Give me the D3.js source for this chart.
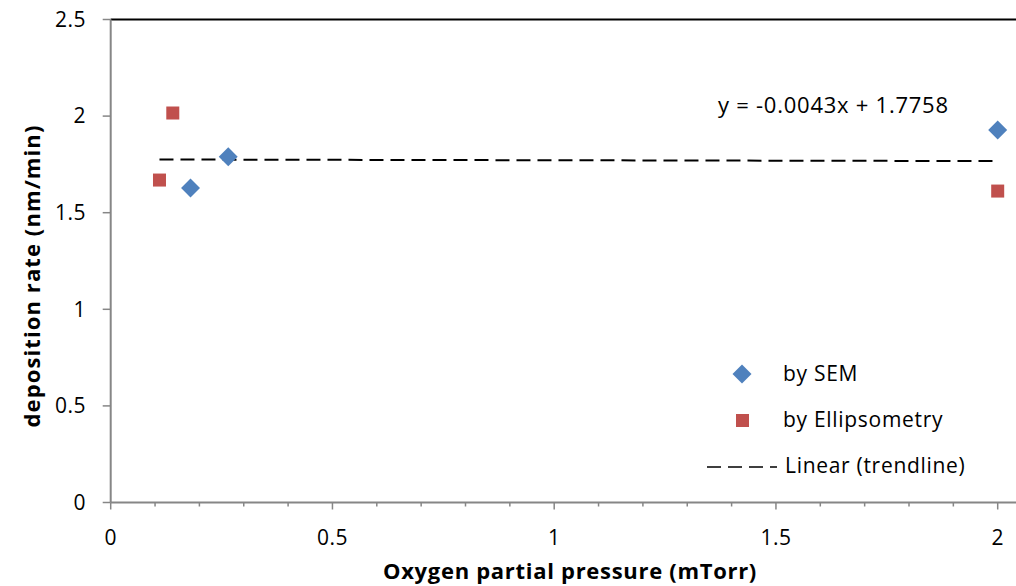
<!DOCTYPE html>
<html>
<head>
<meta charset="utf-8">
<script src="https://cdn.jsdelivr.net/npm/d3@7"></script>
<style>
  body { margin: 0; background: #fff; }
  svg text { font-family: "Open Sans", "Noto Sans", sans-serif; fill: #000; }
</style>
</head>
<body>
<svg width="1016" height="586"></svg>
<script>
// data
var semX = [0.18, 0.265, 2.0];
var semY = [1.628, 1.79, 1.928];
var ellX = [0.11, 0.14, 2.0];
var ellY = [1.669, 2.016, 1.612];
var trendSlope = -0.0043, trendIntercept = 1.7758;
var trendRange = [0.11, 2.0];
var xTicks = [0, 0.5, 1, 1.5, 2];
var yTicks = [0, 0.5, 1, 1.5, 2, 2.5];

var svg = d3.select('svg');
var x = d3.scaleLinear().domain([0, 2]).range([110.7, 997.7]);
var y = d3.scaleLinear().domain([0, 2.5]).range([502.5, 19.5]);
var right = 1016;
var grey = '#868686';

// top border
svg.append('line')
    .attr('x1', x(0)).attr('x2', right)
    .attr('y1', y(2.5)).attr('y2', y(2.5))
    .attr('stroke', '#000').attr('stroke-width', 2);

// y axis
var yAx = svg.append('g');
yAx.append('line')
    .attr('x1', x(0)).attr('x2', x(0))
    .attr('y1', y(0)).attr('y2', y(2.5))
    .attr('stroke', grey).attr('stroke-width', 2);
yAx.selectAll('.tk').data(yTicks).enter().append('line')
    .attr('x1', x(0) - 8).attr('x2', x(0))
    .attr('y1', function(d){ return y(d); })
    .attr('y2', function(d){ return y(d); })
    .attr('stroke', grey).attr('stroke-width', 1.5);
yAx.selectAll('text').data(yTicks).enter().append('text')
    .attr('x', 86)
    .attr('y', function(d){ return y(d); })
    .attr('dy', '0.35em')
    .attr('text-anchor', 'end')
    .style('font-size', '21px').style('letter-spacing', '0.5px')
    .text(function(d){ return d; });

// x axis
var xAx = svg.append('g');
xAx.append('line')
    .attr('x1', x(0)).attr('x2', right)
    .attr('y1', y(0)).attr('y2', y(0))
    .attr('stroke', grey).attr('stroke-width', 2);
var minor = d3.range(0, 21).map(function(i){ return i / 10; });
xAx.selectAll('.mn').data(minor).enter().append('line')
    .attr('x1', function(d){ return x(d); })
    .attr('x2', function(d){ return x(d); })
    .attr('y1', y(0))
    .attr('y2', function(d, i){ return y(0) + (i % 5 === 0 ? 7 : 4); })
    .attr('stroke', grey).attr('stroke-width', 1.5);
xAx.selectAll('text').data(xTicks).enter().append('text')
    .attr('x', function(d){ return x(d); })
    .attr('y', 538)
    .attr('dy', '0.35em')
    .attr('text-anchor', 'middle')
    .style('font-size', '21px').style('letter-spacing', '0.5px')
    .text(function(d){ return d; });

// axis titles
svg.append('text')
    .attr('transform', 'translate(40,276) rotate(-90)')
    .attr('text-anchor', 'middle')
    .style('font-size', '22px').style('font-weight', 'bold').style('letter-spacing', '1.1px')
    .text('deposition rate (nm/min)');
svg.append('text')
    .attr('x', 570).attr('y', 579)
    .attr('text-anchor', 'middle')
    .style('font-size', '22px').style('font-weight', 'bold').style('letter-spacing', '0.7px')
    .text('Oxygen partial pressure (mTorr)');

// trendline
svg.append('line')
    .attr('x1', x(trendRange[0])).attr('x2', x(trendRange[1]))
    .attr('y1', y(trendSlope * trendRange[0] + trendIntercept))
    .attr('y2', y(trendSlope * trendRange[1] + trendIntercept))
    .attr('stroke', '#000').attr('stroke-width', 2)
    .attr('stroke-dasharray', '14,7');

svg.append('text')
    .attr('x', 718).attr('y', 105)
    .attr('dy', '0.35em')
    .style('font-size', '22px').style('letter-spacing', '0.75px')
    .text('y = -0.0043x + 1.7758');

// points
var diamond = d3.symbol().type(d3.symbolSquare).size(180);
svg.selectAll('.sem').data(semX).enter().append('path')
    .attr('d', diamond)
    .attr('transform', function(d, i){ return 'translate(' + x(d) + ',' + y(semY[i]) + ') rotate(45)'; })
    .attr('fill', '#4F81BD');
svg.selectAll('.ell').data(ellX).enter().append('rect')
    .attr('x', function(d){ return x(d) - 6.5; })
    .attr('y', function(d, i){ return y(ellY[i]) - 6.5; })
    .attr('width', 13).attr('height', 13)
    .attr('fill', '#C0504D');

// legend
var lg = svg.append('g');
lg.append('path').attr('d', diamond)
    .attr('transform', 'translate(742,374) rotate(45)')
    .attr('fill', '#4F81BD');
lg.append('rect').attr('x', 736).attr('y', 414).attr('width', 13).attr('height', 13)
    .attr('fill', '#C0504D');
lg.append('line').attr('x1', 707).attr('x2', 777).attr('y1', 467).attr('y2', 467)
    .attr('stroke', '#000').attr('stroke-width', 1.5).attr('stroke-dasharray', '14,7');
var legText = [['by SEM', 783, 374], ['by Ellipsometry', 783, 420], ['Linear (trendline)', 785, 466]];
lg.selectAll('text').data(legText).enter().append('text')
    .attr('x', function(d){ return d[1]; })
    .attr('y', function(d){ return d[2]; })
    .attr('dy', '0.35em')
    .style('font-size', '21px').style('letter-spacing', '0.7px')
    .text(function(d){ return d[0]; });
</script>
</body>
</html>
